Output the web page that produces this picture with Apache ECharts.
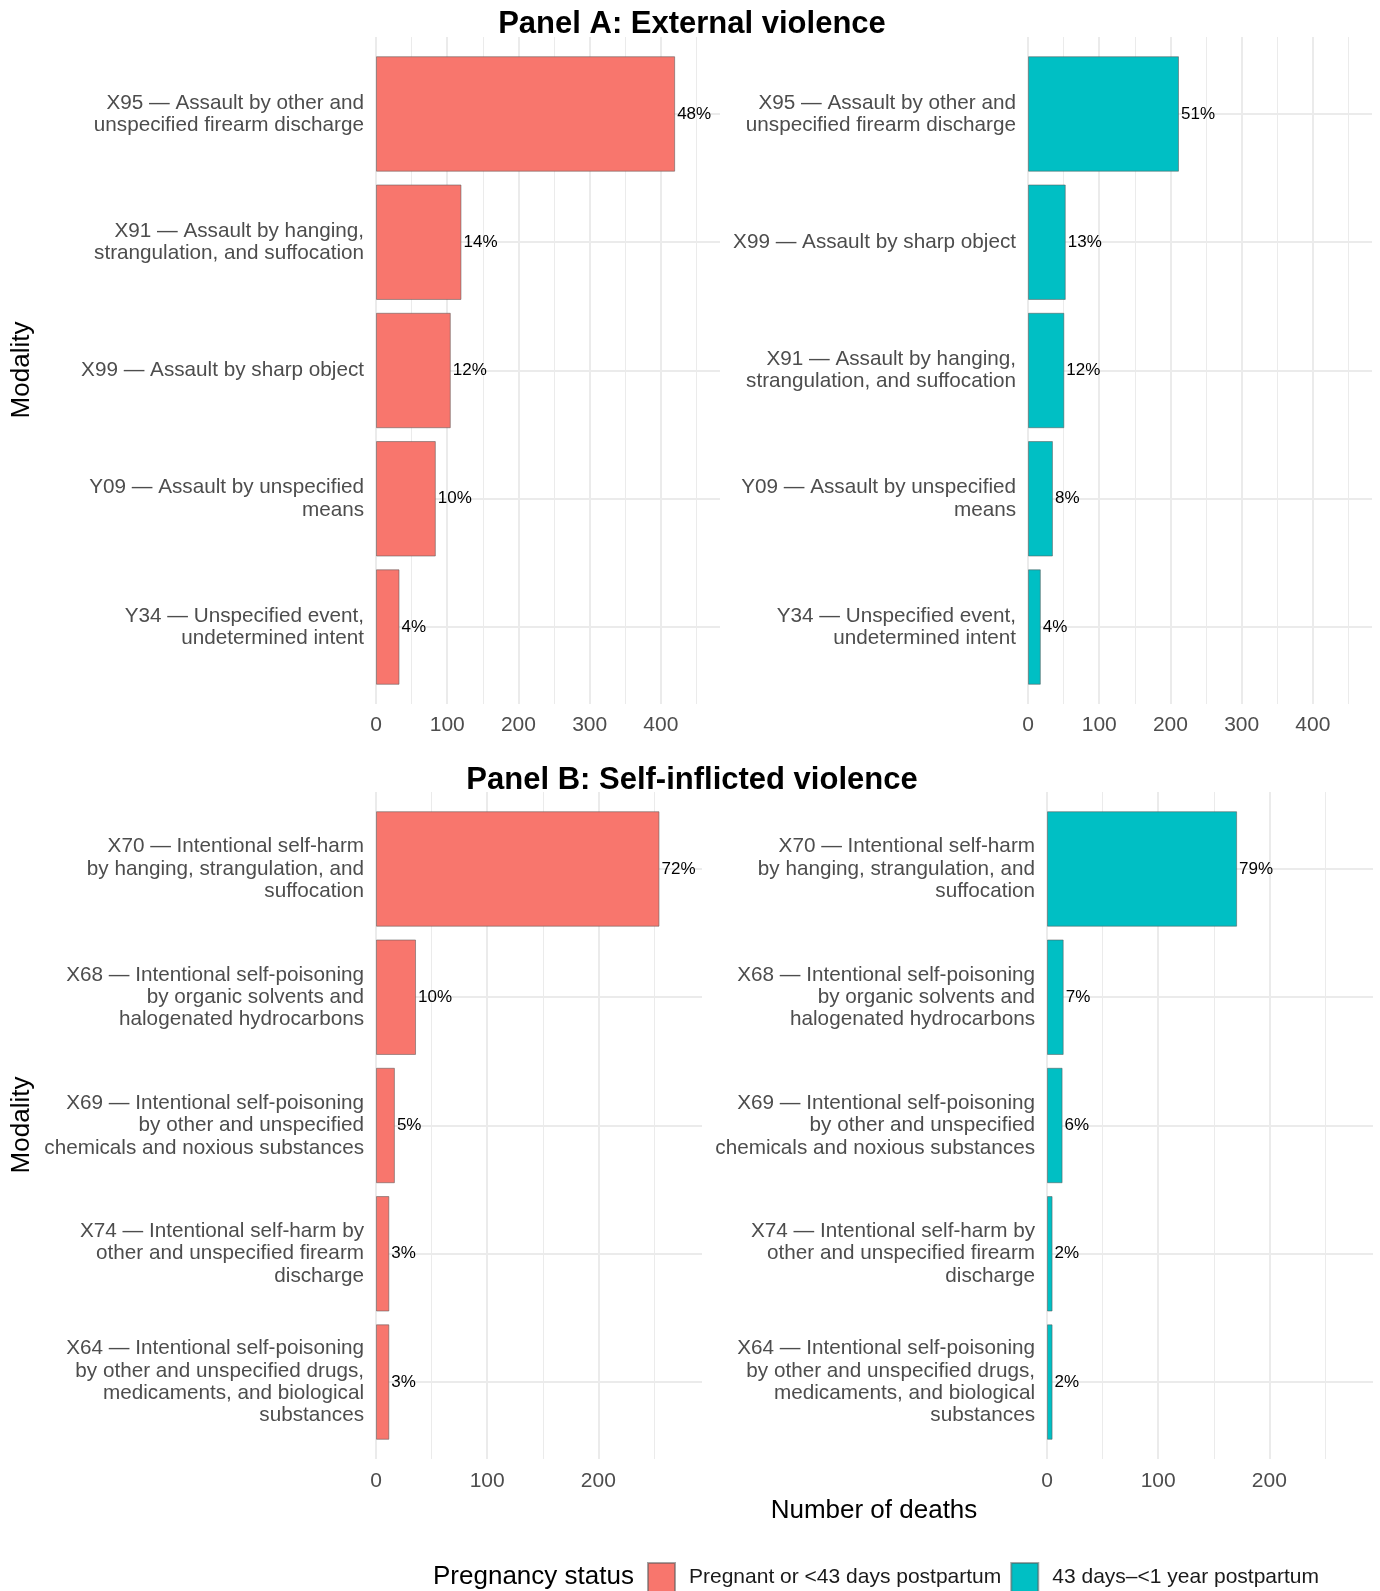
<!DOCTYPE html>
<html>
<head>
<meta charset="utf-8">
<title>Violent maternal deaths by modality</title>
<script src="https://cdn.jsdelivr.net/npm/echarts@6/dist/echarts.min.js"></script>
<style>
  html, body { margin: 0; padding: 0; background: #ffffff; }
  #chart { width: 1380px; height: 1591px; }
</style>
</head>
<body>
<div id="chart"></div>
<script>
// ---- Data ---------------------------------------------------------------
const statusNames = ['Pregnant or <43 days postpartum', '43 days\u2013<1 year postpartum'];

// Panel A: external violence
const extPregnantCats = [
  'X95 \u2014 Assault by other and\nunspecified firearm discharge',
  'X91 \u2014 Assault by hanging,\nstrangulation, and suffocation',
  'X99 \u2014 Assault by sharp object',
  'Y09 \u2014 Assault by unspecified\nmeans',
  'Y34 \u2014 Unspecified event,\nundetermined intent'
];
const extPregnantDeaths = [420, 120, 105, 84, 33];
const extPregnantShare = ['48%', '14%', '12%', '10%', '4%'];

const extPostpartumCats = [
  'X95 \u2014 Assault by other and\nunspecified firearm discharge',
  'X99 \u2014 Assault by sharp object',
  'X91 \u2014 Assault by hanging,\nstrangulation, and suffocation',
  'Y09 \u2014 Assault by unspecified\nmeans',
  'Y34 \u2014 Unspecified event,\nundetermined intent'
];
const extPostpartumDeaths = [212, 53, 51, 35, 18];
const extPostpartumShare = ['51%', '13%', '12%', '8%', '4%'];

// Panel B: self-inflicted violence
const selfPregnantCats = [
  'X70 \u2014 Intentional self-harm\nby hanging, strangulation, and\nsuffocation',
  'X68 \u2014 Intentional self-poisoning\nby organic solvents and\nhalogenated hydrocarbons',
  'X69 \u2014 Intentional self-poisoning\nby other and unspecified\nchemicals and noxious substances',
  'X74 \u2014 Intentional self-harm by\nother and unspecified firearm\ndischarge',
  'X64 \u2014 Intentional self-poisoning\nby other and unspecified drugs,\nmedicaments, and biological\nsubstances'
];
const selfPregnantDeaths = [255, 36, 17, 12, 12];
const selfPregnantShare = ['72%', '10%', '5%', '3%', '3%'];

const selfPostpartumCats = selfPregnantCats.slice();
const selfPostpartumDeaths = [171, 15, 14, 5, 5];
const selfPostpartumShare = ['79%', '7%', '6%', '2%', '2%'];

const xTickStep = 100;

// ---- Styling --------------------------------------------------------------
const FONT = "'Liberation Sans', Arial, Helvetica, sans-serif";
const RED = '#F8766D';
const TEAL = '#00BFC4';
const GRID = '#EBEBEB';
const AXIS_TEXT = '#4D4D4D';

// shared x scale within each panel, padded 15% on the right
const extMax = Math.max(...extPregnantDeaths, ...extPostpartumDeaths) * 1.15;
const selfMax = Math.max(...selfPregnantDeaths, ...selfPostpartumDeaths) * 1.15;

const PANEL_H = 667;
const facets = [
  { cats: extPregnantCats,    values: extPregnantDeaths,    share: extPregnantShare,    color: RED,  name: statusNames[0], left: 376,  top: 37,  width: 344, xMax: extMax,  labelMargin: 11 },
  { cats: extPostpartumCats,  values: extPostpartumDeaths,  share: extPostpartumShare,  color: TEAL, name: statusNames[1], left: 1028, top: 37,  width: 344, xMax: extMax,  labelMargin: 11 },
  { cats: selfPregnantCats,   values: selfPregnantDeaths,   share: selfPregnantShare,   color: RED,  name: statusNames[0], left: 376,  top: 792, width: 326, xMax: selfMax, labelMargin: 12 },
  { cats: selfPostpartumCats, values: selfPostpartumDeaths, share: selfPostpartumShare, color: TEAL, name: statusNames[1], left: 1047, top: 792, width: 326, xMax: selfMax, labelMargin: 12 }
];

const grid = [], xAxis = [], yAxis = [], series = [];

facets.forEach((f, p) => {
  const n = f.cats.length;
  const step = PANEL_H / (n + 0.2);          // discrete axis padded 0.6 band each side
  const outerIdx = 2 * p, innerIdx = 2 * p + 1;

  // outer grid: full panel, carries the gridlines and x tick labels
  grid.push({ left: f.left, top: f.top, width: f.width, height: PANEL_H, containLabel: false });
  // inner grid: the band area holding the bars
  grid.push({ left: f.left, top: f.top + 0.1 * step, width: f.width, height: n * step, containLabel: false });

  xAxis.push({
    type: 'value', gridIndex: outerIdx, min: 0, max: f.xMax, interval: xTickStep,
    axisLine: { show: false }, axisTick: { show: false }, splitLine: { show: false },
    axisLabel: {
      show: true, margin: f.labelMargin, color: AXIS_TEXT, fontSize: 21, fontFamily: FONT,
      showMaxLabel: false,
      formatter: v => (v % xTickStep === 0 ? String(v) : '')
    }
  });
  xAxis.push({ type: 'value', gridIndex: innerIdx, min: 0, max: f.xMax, show: false });

  yAxis.push({ type: 'value', gridIndex: outerIdx, min: 0.4, max: n + 0.6, inverse: true, show: false });
  yAxis.push({
    type: 'category', gridIndex: innerIdx, data: f.cats, inverse: true,
    axisLine: { show: false }, axisTick: { show: false }, splitLine: { show: false },
    axisLabel: {
      color: AXIS_TEXT, fontSize: 20.7, lineHeight: 22.3, fontFamily: FONT,
      margin: 12, align: 'right', interval: 0, padding: [7, 0, 0, 0]
    }
  });

  // gridlines: major every 100, minor halfway; horizontal at each category
  const lines = [];
  for (let v = 0; v <= f.xMax; v += xTickStep / 2) {
    const major = v % xTickStep === 0;
    lines.push({ xAxis: v, lineStyle: { color: GRID, width: major ? 2 : 1, type: 'solid' } });
  }
  for (let i = 1; i <= n; i++) {
    lines.push({ yAxis: i, lineStyle: { color: GRID, width: 2, type: 'solid' } });
  }
  series.push({
    type: 'scatter', xAxisIndex: outerIdx, yAxisIndex: outerIdx, data: [],
    silent: true, z: 1,
    markLine: {
      silent: true, z: 1, symbol: ['none', 'none'], animation: false,
      label: { show: false }, emphasis: { disabled: true },
      data: lines
    }
  });

  series.push({
    type: 'bar', name: f.name, xAxisIndex: innerIdx, yAxisIndex: innerIdx,
    data: f.values, barCategoryGap: '10%', z: 2,
    itemStyle: { color: f.color, borderColor: 'rgba(90,90,90,0.55)', borderWidth: 1 },
    emphasis: { disabled: true },
    label: {
      show: true, position: 'right', distance: 2, color: '#000000',
      fontSize: 17, fontFamily: FONT,
      formatter: params => f.share[params.dataIndex]
    }
  });
});

const option = {
  animation: false,
  backgroundColor: '#ffffff',
  textStyle: { fontFamily: FONT },
  grid, xAxis, yAxis, series,
  legend: {
    data: statusNames,
    left: 647, top: 1562, padding: 0,
    itemWidth: 27, itemHeight: 29, itemGap: 9,
    icon: 'rect', selectedMode: false,
    textStyle: { fontSize: 21, color: '#1a1a1a', fontFamily: FONT, padding: [0, 0, 0, 9] }
  },
  graphic: [
    { type: 'text', x: 692, y: 24, style: { text: 'Panel A: External violence', font: 'bold 31px ' + FONT, fill: '#000', align: 'center', verticalAlign: 'middle' } },
    { type: 'text', x: 692, y: 780, style: { text: 'Panel B: Self-inflicted violence', font: 'bold 31px ' + FONT, fill: '#000', align: 'center', verticalAlign: 'middle' } },
    { type: 'text', x: 22, y: 370, rotation: Math.PI / 2, style: { text: 'Modality', font: '26px ' + FONT, fill: '#000', align: 'center', verticalAlign: 'middle' } },
    { type: 'text', x: 22, y: 1125, rotation: Math.PI / 2, style: { text: 'Modality', font: '26px ' + FONT, fill: '#000', align: 'center', verticalAlign: 'middle' } },
    { type: 'text', x: 874, y: 1511, style: { text: 'Number of deaths', font: '26px ' + FONT, fill: '#000', align: 'center', verticalAlign: 'middle' } },
    { type: 'text', x: 433, y: 1577, style: { text: 'Pregnancy status', font: '26px ' + FONT, fill: '#000', align: 'left', verticalAlign: 'middle' } }
  ]
};

const chart = echarts.init(document.getElementById('chart'), null, { renderer: 'canvas' });
chart.setOption(option);
</script>
</body>
</html>
